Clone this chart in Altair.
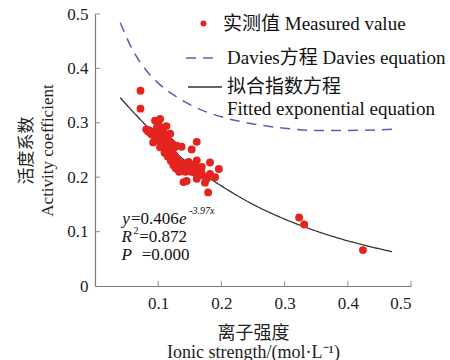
import altair as alt
import pandas as pd

# ---------------- data ----------------
measured_x = [0.072, 0.072, 0.081, 0.084, 0.095, 0.103, 0.100, 0.113, 0.119, 0.092,
              0.161, 0.153, 0.137, 0.129, 0.161, 0.182, 0.169, 0.196, 0.145, 0.161,
              0.177, 0.190, 0.145, 0.174, 0.182, 0.179, 0.140,
              0.086, 0.088, 0.090, 0.093, 0.095, 0.097, 0.098, 0.100, 0.102, 0.104,
              0.105, 0.107, 0.108, 0.110, 0.111, 0.112, 0.113, 0.115, 0.116, 0.117,
              0.118, 0.119, 0.120, 0.121, 0.122, 0.123, 0.124, 0.125, 0.126, 0.127,
              0.128, 0.129, 0.130, 0.131, 0.132, 0.133, 0.134, 0.135, 0.136, 0.137,
              0.138, 0.139, 0.140, 0.141, 0.142, 0.143, 0.145, 0.147, 0.148, 0.150,
              0.152, 0.154, 0.156, 0.158, 0.160, 0.163, 0.166, 0.168, 0.171,
              0.105, 0.110, 0.114, 0.118, 0.122, 0.126, 0.098, 0.108,
              0.103, 0.110, 0.115, 0.120, 0.124, 0.128, 0.133,
              0.323, 0.331, 0.424]
measured_y = [0.359, 0.326, 0.288, 0.284, 0.304, 0.307, 0.300, 0.294, 0.280, 0.264,
              0.265, 0.251, 0.256, 0.258, 0.231, 0.227, 0.219, 0.215, 0.215, 0.197,
              0.197, 0.200, 0.193, 0.190, 0.206, 0.172, 0.191,
              0.286, 0.281, 0.278, 0.283, 0.276, 0.281, 0.272, 0.275, 0.268, 0.278,
              0.265, 0.271, 0.262, 0.267, 0.258, 0.263, 0.254, 0.259, 0.250, 0.256,
              0.246, 0.252, 0.243, 0.248, 0.239, 0.244, 0.236, 0.241, 0.232, 0.238,
              0.229, 0.234, 0.226, 0.231, 0.222, 0.228, 0.219, 0.225, 0.217, 0.223,
              0.214, 0.221, 0.212, 0.218, 0.225, 0.210, 0.222, 0.213, 0.228, 0.219,
              0.210, 0.223, 0.215, 0.208, 0.220, 0.212, 0.205, 0.210, 0.203,
              0.285, 0.280, 0.272, 0.266, 0.262, 0.255, 0.292, 0.291,
              0.255, 0.245, 0.238, 0.230, 0.222, 0.216, 0.210,
              0.126, 0.113, 0.066]

davies_x = [0.04, 0.06, 0.08, 0.10, 0.13, 0.16, 0.20, 0.25, 0.30, 0.35, 0.40, 0.47]
davies_y = [0.484, 0.433, 0.398, 0.373, 0.347, 0.328, 0.311, 0.298, 0.290, 0.286, 0.286, 0.288]

fit_x = [0.04, 0.08, 0.12, 0.16, 0.20, 0.25, 0.30, 0.35, 0.40, 0.47]
fit_y = [0.346, 0.296, 0.252, 0.215, 0.184, 0.150, 0.123, 0.101, 0.083, 0.063]

x_ticks = [0.1, 0.2, 0.3, 0.4, 0.5]
y_ticks = [0, 0.1, 0.2, 0.3, 0.4, 0.5]

legend_labels = ["实测值 Measured value", "Davies方程  Davies equation",
                 "拟合指数方程", "Fitted exponential equation"]

eq_text = ["y", "=0.406", "e", "-3.97x", "R", "2", "=0.872", "P", "=0.000"]
eq_x = [0.043, 0.057, 0.133, 0.149, 0.042, 0.061, 0.070, 0.042, 0.074]
eq_y = [0.114, 0.114, 0.114, 0.132, 0.080, 0.095, 0.080, 0.048, 0.048]
eq_style = ["it", "rm", "it", "sup", "it", "sup2", "rm", "it", "rm"]

# ---------------- styling ----------------
FONT = "Liberation Serif, Noto Sans CJK SC"
AXIS_COLOR = "#857670"
RED = "#e5241f"
BLUE = "#5c5cb8"
DARK = "#333333"

pts = pd.DataFrame({"x": measured_x, "y": measured_y, "s": legend_labels[0]})
dav = pd.DataFrame({"x": davies_x, "y": davies_y, "s": legend_labels[1]})
fit = pd.DataFrame({"x": fit_x, "y": fit_y, "s": legend_labels[2], "s2": legend_labels[3]})
eq = pd.DataFrame({"t": eq_text, "x": eq_x, "y": eq_y, "st": eq_style})
xt = pd.DataFrame({"v": x_ticks, "z": 0.0})
yt = pd.DataFrame({"v": y_ticks[1:], "z": 0.0})

xscale = alt.Scale(domain=[0, 0.5], nice=False, zero=False)
yscale = alt.Scale(domain=[0, 0.5], nice=False, zero=False)

xaxis = alt.Axis(values=x_ticks, format="~g", tickSize=0, labelPadding=9,
                 domainColor=AXIS_COLOR, domainWidth=1.2, grid=False,
                 labelFont=FONT, labelFontSize=17, labelColor="#222222",
                 title=["离子强度", "Ionic strength/(mol·L⁻¹)"], titleFont=FONT,
                 titleFontSize=18, titleFontWeight="normal", titleColor="#222222",
                 titlePadding=13, titleLineHeight=19)
yaxis = alt.Axis(values=y_ticks, format="~g", tickSize=0, labelPadding=7,
                 domainColor=AXIS_COLOR, domainWidth=1.2, grid=False,
                 labelFont=FONT, labelFontSize=17, labelColor="#222222",
                 title=["活度系数", "Activity coefficient"], titleFont=FONT,
                 titleFontSize=17, titleFontWeight="normal", titleColor="#222222",
                 titlePadding=10, titleLineHeight=21)


def leg(x, y, **kw):
    return alt.Legend(orient="none", legendX=x, legendY=y, title=None, padding=0,
                      labelLimit=0, labelFont=FONT, labelFontSize=19,
                      labelColor="#111111", **kw)


points = alt.Chart(pts).mark_circle(size=62, opacity=1).encode(
    x=alt.X("x:Q", scale=xscale, axis=xaxis),
    y=alt.Y("y:Q", scale=yscale, axis=yaxis),
    color=alt.Color("s:N", scale=alt.Scale(domain=[legend_labels[0]], range=[RED]),
                    legend=leg(99, 0, symbolType="circle", symbolSize=36, labelOffset=10)),
)

davies = alt.Chart(dav).mark_line(strokeDash=[10, 7], strokeWidth=1.5, interpolate="monotone").encode(
    x="x:Q", y="y:Q",
    color=alt.Color("s:N", scale=alt.Scale(domain=[legend_labels[1]], range=[BLUE]),
                    legend=leg(90, 28, symbolType="stroke", symbolSize=900,
                               symbolDash=[10, 7], symbolStrokeWidth=1.5, labelOffset=10)),
)

fitted = alt.Chart(fit).mark_line(strokeWidth=1.3, interpolate="monotone").encode(
    x="x:Q", y="y:Q",
    color=alt.Color("s:N", scale=alt.Scale(domain=[legend_labels[2]], range=[DARK]),
                    legend=leg(92, 55, symbolType="stroke", symbolSize=1156,
                               symbolStrokeWidth=1.3, labelOffset=4)),
    strokeDash=alt.StrokeDash("s2:N", scale=alt.Scale(domain=[legend_labels[3]], range=[[1, 0]]),
                              legend=leg(92, 77, symbolType="stroke", symbolSize=1156,
                                         symbolOpacity=0, labelOffset=4)),
)

xticks = alt.Chart(xt).mark_tick(orient="vertical", size=5, thickness=1.2,
                                 color=AXIS_COLOR, yOffset=-2.5).encode(x="v:Q", y="z:Q")
yticks = alt.Chart(yt).mark_tick(orient="horizontal", size=5, thickness=1.2,
                                 color=AXIS_COLOR, xOffset=2.5).encode(x="z:Q", y="v:Q")

eq_it = alt.Chart(eq).transform_filter("datum.st == 'it'").mark_text(
    align="left", baseline="alphabetic", font=FONT, fontSize=17, fontStyle="italic",
    color="#111111").encode(x="x:Q", y="y:Q", text="t:N")
eq_rm = alt.Chart(eq).transform_filter("datum.st == 'rm'").mark_text(
    align="left", baseline="alphabetic", font=FONT, fontSize=17,
    color="#111111").encode(x="x:Q", y="y:Q", text="t:N")
eq_sup = alt.Chart(eq).transform_filter("datum.st == 'sup'").mark_text(
    align="left", baseline="alphabetic", font=FONT, fontSize=10, fontStyle="italic",
    color="#111111").encode(x="x:Q", y="y:Q", text="t:N")
eq_sup2 = alt.Chart(eq).transform_filter("datum.st == 'sup2'").mark_text(
    align="left", baseline="alphabetic", font=FONT, fontSize=10,
    color="#111111").encode(x="x:Q", y="y:Q", text="t:N")

chart = alt.layer(xticks, yticks, davies, fitted, points, eq_it, eq_rm, eq_sup, eq_sup2).resolve_scale(
    color="independent", strokeDash="independent"
).properties(
    width=316, height=272,
    autosize=alt.AutoSizeParams(type="none"),
    padding={"left": 95, "top": 14, "right": 39, "bottom": 74},
    background="white",
).configure_view(strokeWidth=0)

chart.save("out.html", embed_options={"renderer": "svg", "actions": False})
